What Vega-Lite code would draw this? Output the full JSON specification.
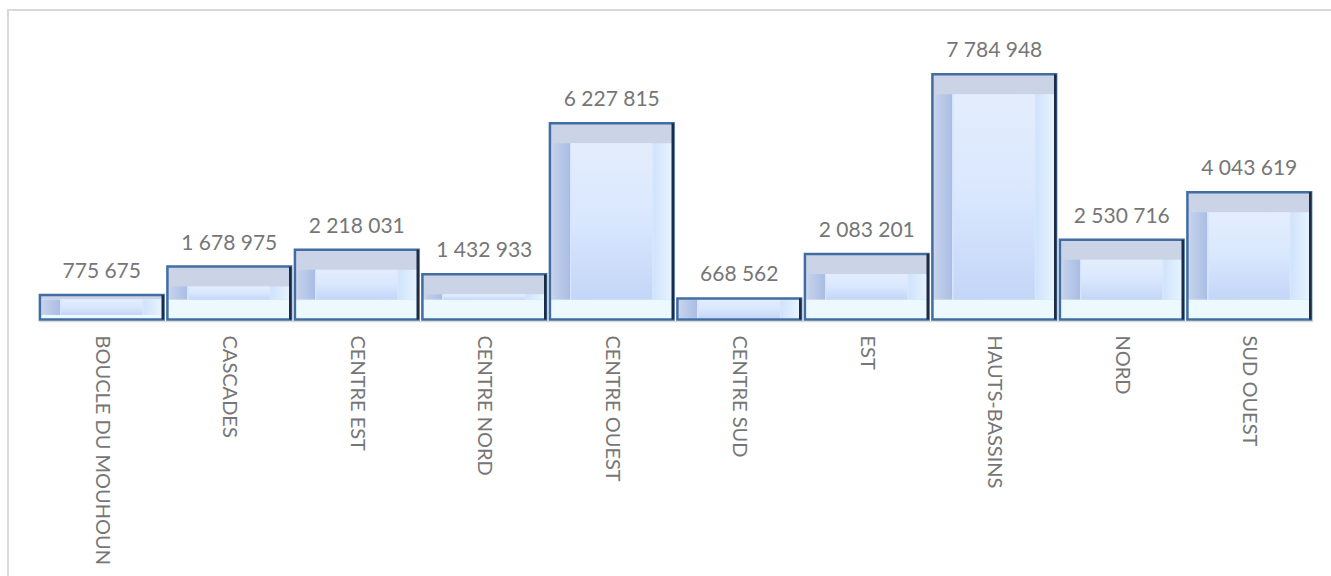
{
  "$schema": "https://vega.github.io/schema/vega-lite/v6.json",
  "autosize": {"type": "none"},
  "padding": {"left": 8, "top": 10, "right": 0, "bottom": 0},
  "width": 1330,
  "height": 580,
  "background": "white",
  "config": {
    "view": {"stroke": "#d9d9d9", "strokeWidth": 2},
    "font": "Lato"
  },
  "data": {
    "values": [
      {"region": "BOUCLE DU MOUHOUN", "value": 775675, "label": "775 675"},
      {"region": "CASCADES", "value": 1678975, "label": "1 678 975"},
      {"region": "CENTRE EST", "value": 2218031, "label": "2 218 031"},
      {"region": "CENTRE NORD", "value": 1432933, "label": "1 432 933"},
      {"region": "CENTRE OUEST", "value": 6227815, "label": "6 227 815"},
      {"region": "CENTRE SUD", "value": 668562, "label": "668 562"},
      {"region": "EST", "value": 2083201, "label": "2 083 201"},
      {"region": "HAUTS-BASSINS", "value": 7784948, "label": "7 784 948"},
      {"region": "NORD", "value": 2530716, "label": "2 530 716"},
      {"region": "SUD OUEST", "value": 4043619, "label": "4 043 619"}
    ]
  },
  "encoding": {
    "x": {
      "field": "region",
      "type": "nominal",
      "sort": null,
      "scale": {"range": [30, 1305], "paddingInner": 0.03, "paddingOuter": 0.015},
      "axis": {
        "title": null,
        "labelAngle": 90,
        "labelAlign": "left",
        "labelBaseline": "middle",
        "labelPadding": 14,
        "ticks": false,
        "grid": false,
        "domainColor": "#d9d9d9",
        "domainWidth": 1.5,
        "labelFont": "Lato",
        "labelFontSize": 20,
        "labelColor": "#767676",
        "labelLimit": 0,
        "labelOverlap": false,
        "offset": -269
      }
    },
    "y": {
      "field": "value",
      "type": "quantitative",
      "scale": {"domain": [0, 10000000], "range": [309.5, -5.5], "nice": false, "zero": true},
      "axis": null
    }
  },
  "layer": [
    {
      "mark": {"type": "bar", "fill": "#ecfaff"},
      "encoding": {"y2": {"datum": 0}}
    },
    {
      "mark": {"type": "bar", "fill": "#cbd3e6", "y2Offset": -20},
      "encoding": {"y2": {"datum": 0}}
    },
    {
      "mark": {
        "type": "bar",
        "yOffset": 20,
        "y2Offset": -20,
        "fill": {
          "gradient": "linear",
          "x1": 0, "y1": 0, "x2": 1, "y2": 0,
          "stops": [
            {"offset": 0, "color": "#d3ddf0"},
            {"offset": 0.03, "color": "#c3d0eb"},
            {"offset": 0.16, "color": "#a9bde4"},
            {"offset": 0.162, "color": "#d6e3fa"},
            {"offset": 0.838, "color": "#d6e6fd"},
            {"offset": 0.84, "color": "#cfe3fb"},
            {"offset": 1, "color": "#eaf6ff"}
          ]
        }
      },
      "encoding": {"y2": {"datum": 0}}
    },
    {
      "mark": {
        "type": "bar",
        "yOffset": 20,
        "y2Offset": -20,
        "width": {"band": 0.656},
        "fill": {
          "gradient": "linear",
          "x1": 0, "y1": 0, "x2": 0, "y2": 1,
          "stops": [
            {"offset": 0, "color": "#e3edfc"},
            {"offset": 0.5, "color": "#d9e7fe"},
            {"offset": 1, "color": "#c3d6f7"}
          ]
        }
      },
      "encoding": {"y2": {"datum": 0}}
    },
    {
      "mark": {"type": "bar", "fillOpacity": 0, "stroke": "#416da3", "strokeWidth": 2.5},
      "encoding": {"y2": {"datum": 0}}
    },
    {
      "mark": {"type": "bar", "fill": "#1d2c44", "width": 2.5, "xOffset": 61},
      "encoding": {"y2": {"datum": 0}}
    },
    {
      "mark": {"type": "text", "baseline": "alphabetic", "dy": -17, "font": "Lato", "fontSize": 21, "color": "#767676"},
      "encoding": {"text": {"field": "label"}}
    }
  ]
}
